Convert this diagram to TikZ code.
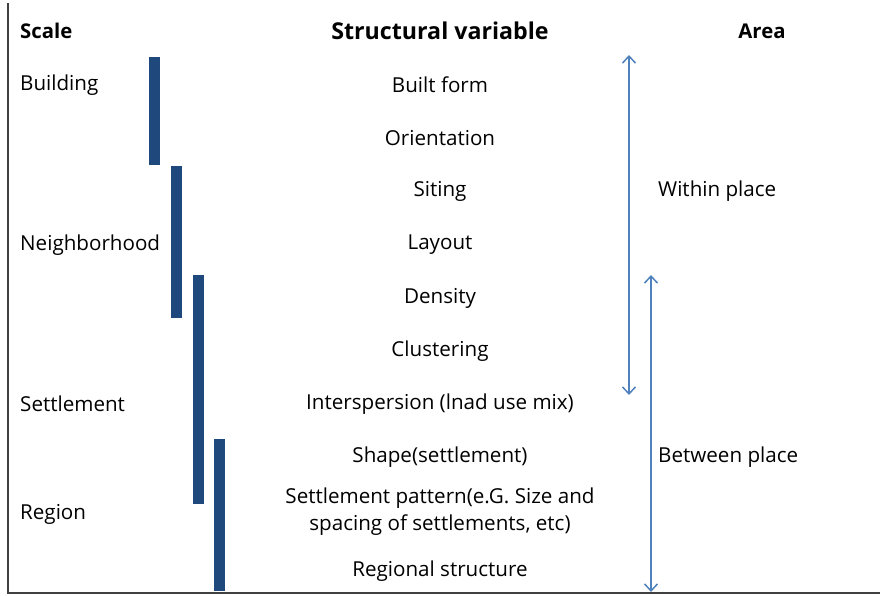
\documentclass[tikz,border=0pt]{standalone}
\usepackage{fontspec}
\setmainfont{Open Sans}
\usetikzlibrary{arrows.meta}
\definecolor{barblue}{HTML}{1F497D}
\definecolor{arrblue}{HTML}{4F81BD}
\definecolor{axisgray}{HTML}{404040}
\tikzset{
  x=1pt, y=-1pt,
  head/.style={font=\bfseries\fontsize{20.3}{22}\selectfont, inner sep=0pt},
  scalelbl/.style={font=\fontsize{20.6}{24}\selectfont, anchor=west, inner sep=0pt},
  var/.style={font=\fontsize{20.6}{24}\selectfont, inner sep=0pt, align=center},
  bar/.style={fill=barblue, draw=none},
  span/.style={draw=arrblue, line width=1.5pt, {Straight Barb[length=7pt,width=13pt]}-{Straight Barb[length=7pt,width=13pt]}},
  axis/.style={draw=axisgray, line width=2pt}
}
\begin{document}
\begin{tikzpicture}
\useasboundingbox (0,0) rectangle (883,596);
% axes
\coordinate (top) at (7.5,3);
\coordinate (origin) at (7.5,593);
\coordinate (right) at (880,593);
\draw[axis] (top) -- (origin) -- (right);
% column headings
\node[head, anchor=west] (hscale) at (20,31) {Scale};
\node[head, font=\bfseries\fontsize{23.2}{26}\selectfont] (hvar) at (440,31) {Structural variable};
\node[head] (harea) at (762,31) {Area};
% scales
\node[scalelbl] (building) at (20,85) {Building};
\node[scalelbl] (neigh) at (20,245) {Neighborhood};
\node[scalelbl] (settle) at (20,404) {Settlement};
\node[scalelbl] (region) at (20,514) {Region};
% extent bars
\fill[bar] (149,57) rectangle (160,165);
\fill[bar] (171,166) rectangle (182,318);
\fill[bar] (193,275) rectangle (204,504);
\fill[bar] (214,439) rectangle (225,591);
% structural variables
\node[var] (v1) at (440,85) {Built form};
\node[var] (v2) at (440,138) {Orientation};
\node[var] (v3) at (440,191) {Siting};
\node[var] (v4) at (440,245) {Layout};
\node[var] (v5) at (440,298) {Density};
\node[var] (v6) at (440,351) {Clustering};
\node[var] (v7) at (440,404) {Interspersion (lnad use mix)};
\node[var] (v8) at (440,457) {Shape(settlement)};
\node[var, font=\fontsize{20.6}{27}\selectfont] (v9) at (440,512) {Settlement pattern(e.G. Size and\\spacing of settlements, etc)};
\node[var] (v10) at (440,571) {Regional structure};
% areas
\coordinate (w1) at (629,55);
\coordinate (w2) at (629,395);
\coordinate (b1) at (651,275);
\coordinate (b2) at (651,592);
\draw[span] (w1) -- (w2);
\draw[span] (b1) -- (b2);
\node[scalelbl] (within) at (658,191) {Within place};
\node[scalelbl] (between) at (658,457) {Between place};
\end{tikzpicture}
\end{document}
